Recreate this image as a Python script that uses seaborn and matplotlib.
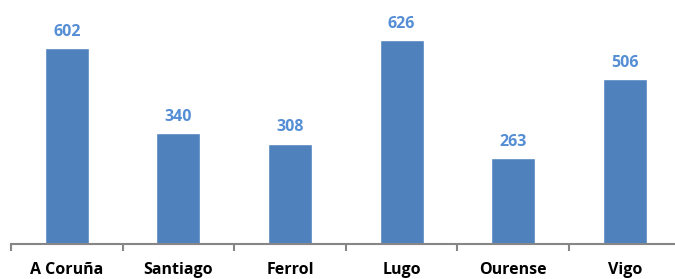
import matplotlib
matplotlib.use("Agg")
import matplotlib.pyplot as plt
import seaborn as sns
import pandas as pd
import numpy as np

cities = ["A Coruña", "Santiago", "Ferrol", "Lugo", "Ourense", "Vigo"]
values = [602, 340, 308, 626, 263, 506]

df = pd.DataFrame({"city": cities, "value": values})

sns.set_style("white")
plt.rcParams['font.family'] = ['Open Sans', 'DejaVu Sans']

fig = plt.figure(figsize=(6.75, 2.79), dpi=100)
ax = fig.add_axes([11/675, 1 - 244/279, 669.5/675, 244/279])

sns.barplot(data=df, x="city", y="value", color="#4F81BD", saturation=1,
            width=0.395, ax=ax)

ax.set_xlim(-0.5, 5.5)
ax.set_ylim(0, 750)

for p, v in zip(ax.patches, values):
    ax.annotate(f"{v}", (p.get_x() + p.get_width() / 2, p.get_height()),
                xytext=(0, 6), textcoords="offset points",
                ha="center", va="bottom", fontsize=11.5, fontweight="bold",
                color="#558ED5")

ax.set_xlabel("")
ax.set_ylabel("")
ax.set_yticks([])
for s in ["top", "right", "left"]:
    ax.spines[s].set_visible(False)
ax.spines["bottom"].set_color("#868686")
ax.spines["bottom"].set_linewidth(1.5)

ax.set_xticks(range(len(cities)))
ax.set_xticklabels(cities, fontsize=11.5, fontweight="bold", color="black")
ax.tick_params(axis="x", which="major", length=0, pad=13)
ax.set_xticks(np.arange(-0.5, 5.6, 1), minor=True)
ax.tick_params(axis="x", which="minor", bottom=True, length=5, width=1.5,
               color="#868686", direction="out")

fig.savefig("out.png", dpi=100)
